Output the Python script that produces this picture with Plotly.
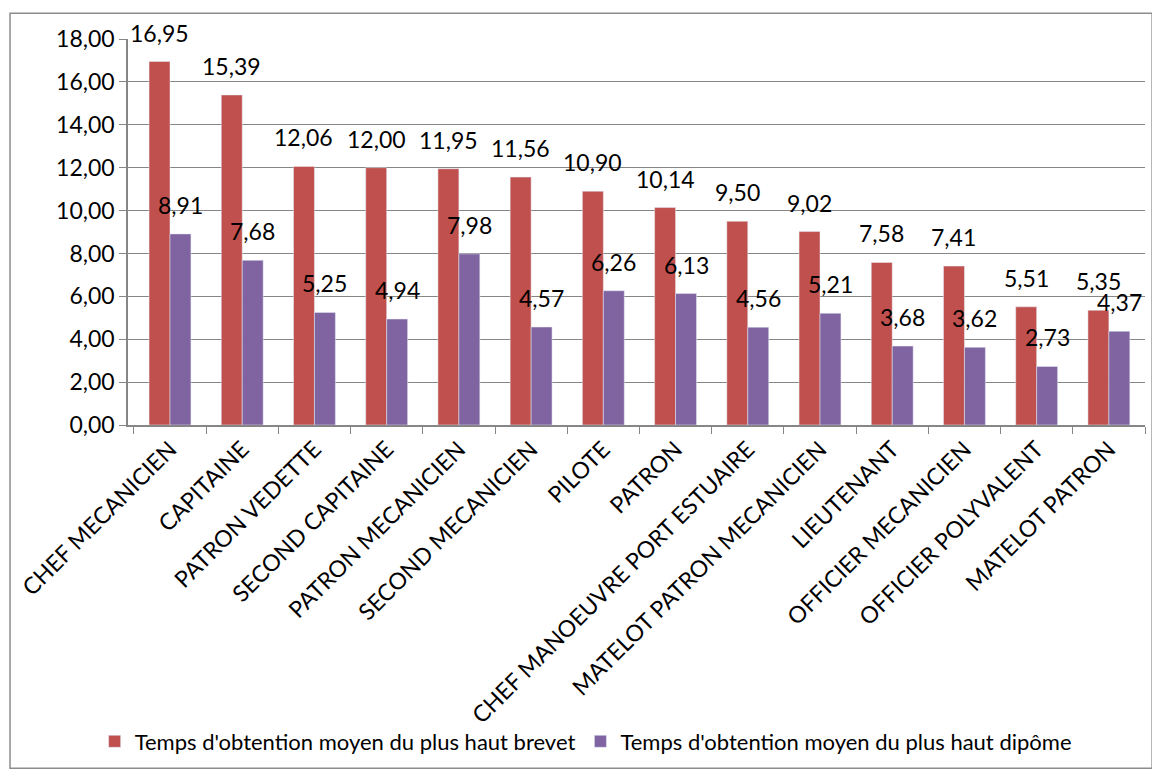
import plotly.graph_objects as go

categories = ["CHEF MECANICIEN", "CAPITAINE", "PATRON VEDETTE", "SECOND CAPITAINE",
              "PATRON MECANICIEN", "SECOND MECANICIEN", "PILOTE", "PATRON",
              "CHEF MANOEUVRE PORT ESTUAIRE", "MATELOT PATRON MECANICIEN",
              "LIEUTENANT", "OFFICIER MECANICIEN", "OFFICIER POLYVALENT", "MATELOT PATRON"]
brevet = [16.95, 15.39, 12.06, 12.00, 11.95, 11.56, 10.90, 10.14, 9.50, 9.02, 7.58, 7.41, 5.51, 5.35]
diplome = [8.91, 7.68, 5.25, 4.94, 7.98, 4.57, 6.26, 6.13, 4.56, 5.21, 3.68, 3.62, 2.73, 4.37]
y_ticks = [0, 2, 4, 6, 8, 10, 12, 14, 16, 18]

FONT = "Lato"
fig = go.Figure()
fig.add_trace(go.Bar(x=categories, y=brevet, name="Temps d'obtention moyen du plus haut brevet",
                     marker=dict(color="#C0504D")))
fig.add_trace(go.Bar(x=categories, y=diplome, name="Temps d'obtention moyen du plus haut dipôme",
                     marker=dict(color="#8064A2")))

# data labels above each bar, Excel style
for vals, shift in ((brevet, -10.5), (diplome, 10.5)):
    for c, v in zip(categories, vals):
        fig.add_annotation(x=c, y=v, text=f"{v:.2f}".replace(".", ","), showarrow=False,
                           xshift=shift, yshift=13, yanchor="bottom",
                           font=dict(family=FONT, size=23, color="black"))

# outer chart border
fig.add_shape(type="rect", xref="paper", yref="paper", x0=-0.116, x1=1.007, y0=-0.889, y1=1.067,
              line=dict(color="#8c8c8c", width=1.5))

# page body has an 8px margin, so the figure is a bit smaller than the window
fig.update_layout(
    width=1152, height=763,
    margin=dict(l=120, r=15, t=31, b=346, autoexpand=False),
    plot_bgcolor="white", paper_bgcolor="white",
    barmode="group", bargap=0.42, bargroupgap=0,
    separators=", ",
    font=dict(family=FONT, size=19, color="black"),
    legend=dict(orientation="h", x=0.45, xanchor="center", y=-0.82, yanchor="middle",
                font=dict(family=FONT, size=22), itemwidth=30, traceorder="normal",
                bgcolor="rgba(0,0,0,0)"),
)
fig.update_xaxes(tickangle=-45, tickson="boundaries", ticks="outside", ticklen=7,
                 tickcolor="#868686", showline=True, linecolor="#868686", linewidth=1.5,
                 tickfont=dict(family=FONT, size=23), automargin=False)
fig.update_yaxes(range=[0, 18], tickvals=y_ticks, tickformat=".2f", ticks="outside", ticklen=7,
                 tickcolor="#868686", showline=True, linecolor="#868686", linewidth=1.5,
                 gridcolor="#868686", gridwidth=1.2, zeroline=False, automargin=False,
                 tickfont=dict(family=FONT, size=23))

fig.write_html("out.html")
